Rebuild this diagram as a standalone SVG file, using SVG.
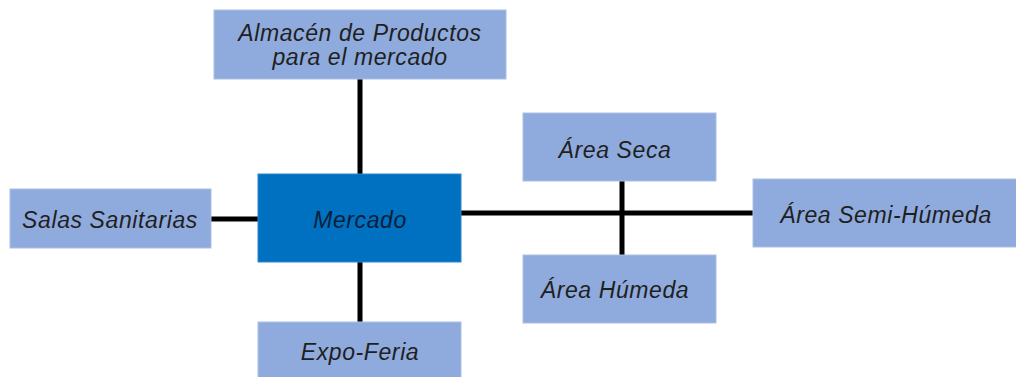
<svg xmlns="http://www.w3.org/2000/svg" width="1016" height="377" viewBox="0 0 1016 377">
<style>
.n{fill:#8FAADC;stroke:#A9BFE6;stroke-width:1}
.m{fill:#0070C0;stroke:#2E86CF;stroke-width:1}
.t{font-family:"Liberation Sans","DejaVu Sans",sans-serif;font-style:italic;font-size:23px;letter-spacing:0.6px;fill:#1F1F1F;text-anchor:middle}
.c{stroke:#000;stroke-width:5;fill:none}
</style>
<rect width="1016" height="377" fill="#fff"/>
<g id="connectors">
<line class="c" x1="360" y1="79" x2="360" y2="174"/>
<line class="c" x1="211" y1="219" x2="258" y2="219"/>
<line class="c" x1="360" y1="262" x2="360" y2="322"/>
<line class="c" x1="461" y1="213" x2="753" y2="213"/>
<line class="c" x1="622" y1="181" x2="622" y2="255"/>
</g>
<g id="almacen"><rect class="n" x="214" y="10" width="292" height="69"/><text class="t" x="360" y="41">Almacén de Productos</text><text class="t" x="360" y="65">para el mercado</text></g>
<g id="salas"><rect class="n" x="10" y="189" width="201" height="59"/><text class="t" x="110" y="228">Salas Sanitarias</text></g>
<g id="mercado"><rect class="m" x="258" y="174" width="203" height="88"/><text class="t" x="360" y="228" style="fill:#0A1F3A">Mercado</text></g>
<g id="expo"><rect class="n" x="258" y="322" width="203" height="60"/><text class="t" x="360" y="360">Expo-Feria</text></g>
<g id="seca"><rect class="n" x="523" y="113" width="193" height="68"/><text class="t" x="615" y="158">Área Seca</text></g>
<g id="humeda"><rect class="n" x="523" y="255" width="193" height="68"/><text class="t" x="615" y="298">Área Húmeda</text></g>
<g id="semihumeda"><rect class="n" x="753" y="179" width="270" height="68"/><text class="t" x="886" y="223">Área Semi-Húmeda</text></g>
</svg>
